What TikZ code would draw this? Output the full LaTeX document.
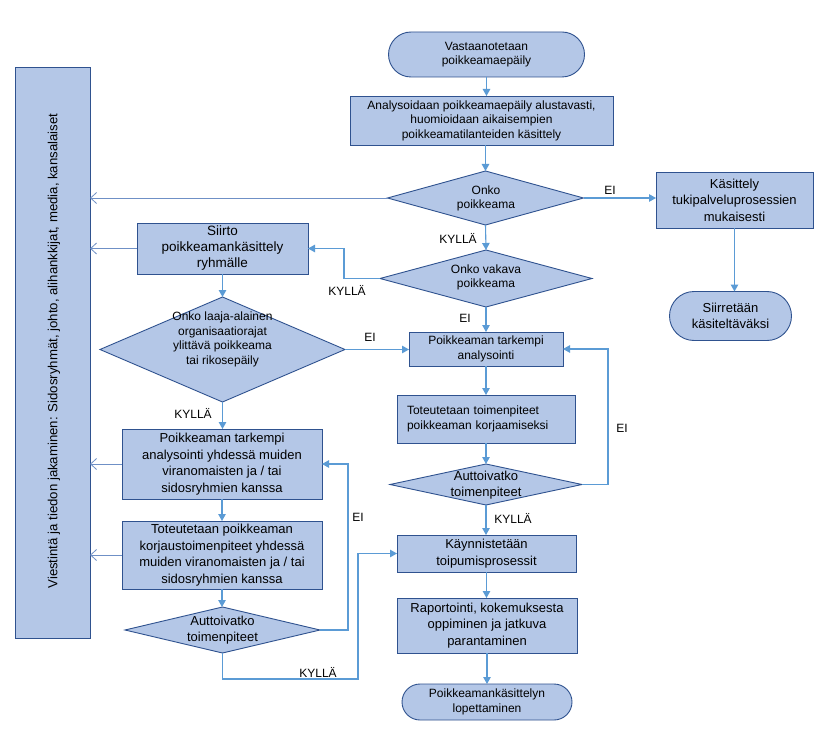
\documentclass[tikz,border=0pt]{standalone}
\usepackage{fontspec}
\setmainfont{Liberation Sans}
\usetikzlibrary{shapes.geometric,shapes.misc,arrows.meta}
\definecolor{boxfill}{HTML}{B4C7E7}
\definecolor{boxline}{HTML}{2F528F}
\definecolor{arrowc}{HTML}{5B9BD5}
\definecolor{infoc}{HTML}{6F90C6}
\begin{document}
\begin{tikzpicture}[x=1pt,y=-1pt,
  fa/.style={font=\fontsize{12}{14.5}\selectfont},
  fb/.style={font=\fontsize{13}{16.5}\selectfont},
  fc/.style={font=\fontsize{13.5}{16}\selectfont},
  box/.style={rectangle, draw=boxline, fill=boxfill, line width=0.9pt, inner sep=0pt, outer sep=0pt, align=center},
  term/.style={rounded rectangle, draw=boxline, fill=boxfill, line width=0.9pt, inner sep=0pt, outer sep=0pt, align=center},
  dia/.style={diamond, draw=boxline, fill=boxfill, line width=0.9pt, inner sep=0pt, outer sep=0pt},
  dtext/.style={align=center, inner sep=0pt},
  lbl/.style={fa, inner sep=0pt},
  flow/.style={draw=arrowc, line width=1.1pt, -{Triangle[length=7pt,width=7.5pt]}},
  plain/.style={draw=arrowc, line width=1.1pt},
  info/.style={draw=infoc, line width=0.8pt, -{Straight Barb[length=6pt,width=11pt,line width=0.8pt]}}
]
\useasboundingbox (0,0) rectangle (827,730);
\fill[white] (0,0) rectangle (827,730);

% left information box
\node[box, minimum width=75pt, minimum height=571pt] (lb) at (52.5,352.5) {};
\node[font=\fontsize{13.2}{15}\selectfont, rotate=90, inner sep=0pt] (lbt) at (54,351) {Viestintä ja tiedon jakaminen: Sidosryhmät, johto, alihankkijat, media, kansalaiset};

% main column
\node[term, fa, minimum width=196pt, minimum height=45pt] (start) at (486.5,54.5) {Vastaanotetaan\\poikkeamaepäily};
\node[box, fa, minimum width=263pt, minimum height=49pt] (ana) at (481.5,120.5) {Analysoidaan poikkeamaepäily alustavasti,\\huomioidaan aikaisempien\\poikkeamatilanteiden käsittely};
\node[dia, minimum width=196pt, minimum height=54pt] (d1) at (485.5,198) {};
\node[dtext, fa] (d1t) at (486,198.5) {Onko\\poikkeama};
\node[box, fb, minimum width=157pt, minimum height=56pt] (kas) at (734.5,200) {Käsittely\\tukipalveluprosessien\\mukaisesti};
\node[term, fb, minimum width=122pt, minimum height=49pt] (siir) at (730.5,316) {Siirretään\\käsiteltäväksi};
\node[dia, minimum width=212pt, minimum height=57pt] (d2) at (486,278.5) {};
\node[dtext, fa] (d2t) at (486,277.5) {Onko vakava\\poikkeama};
\node[box, fa, minimum width=154pt, minimum height=34pt] (pta) at (486,349) {Poikkeaman tarkempi\\analysointi};
\node[box, fa, minimum width=178pt, minimum height=48pt, text width=158pt, align=left, inner xsep=10pt] (tot) at (486,419) {Toteutetaan toimenpiteet\\poikkeaman korjaamiseksi};
\node[dia, minimum width=192pt, minimum height=41pt] (d4) at (486,484.5) {};
\node[dtext, fb] (d4t) at (486,485) {Auttoivatko\\toimenpiteet};
\node[box, fb, minimum width=179pt, minimum height=37pt] (kay) at (486.5,553.5) {Käynnistetään\\toipumisprosessit};
\node[box, fb, minimum width=180pt, minimum height=55pt] (rap) at (487,625.5) {Raportointi, kokemuksesta\\oppiminen ja jatkuva\\parantaminen};
\node[term, fa, minimum width=170pt, minimum height=36pt] (endt) at (487,702) {Poikkeamankäsittelyn\\lopettaminen};

% left column
\node[box, fc, minimum width=171pt, minimum height=51pt] (siirto) at (222.5,248.5) {Siirto\\poikkeamankäsittely\\ryhmälle};
\node[dia, minimum width=245pt, minimum height=105pt] (d3) at (222.5,349.5) {};
\node[dtext, fa] (d3t) at (222.5,339.5) {Onko laaja-alainen\\organisaatiorajat\\ylittävä poikkeama\\tai rikosepäily};
\node[box, fb, minimum width=200pt, minimum height=70pt] (lpta) at (222,464) {Poikkeaman tarkempi\\analysointi yhdessä muiden\\viranomaisten ja / tai\\sidosryhmien kanssa};
\node[box, fb, minimum width=200pt, minimum height=68pt] (ltot) at (222,555) {Toteutetaan poikkeaman\\korjaustoimenpiteet yhdessä\\muiden viranomaisten ja / tai\\sidosryhmien kanssa};
\node[dia, minimum width=195pt, minimum height=46pt] (d5) at (222.5,630) {};
\node[dtext, fb] (d5t) at (222.5,630) {Auttoivatko\\toimenpiteet};

% main flow connectors
\draw[flow] (start.south) -- (start.south |- ana.north);
\draw[flow] (d1.north |- ana.south) -- (d1.north);
\draw[flow] (d1.east) -- (d1.east -| kas.west);
\draw[flow] (kas.south) -- (kas.south |- siir.north);
\draw[flow] (d1.south) -- (d2.north);
\draw[flow] (d2.west) -- ++(-36,0) |- (siirto.east);
\draw[flow] (d2.south) -- (d2.south |- pta.north);
\draw[flow] (siirto.south) -- (d3.north);
\draw[flow] (d3.east) -- (d3.east -| pta.west);
\draw[flow] (d3.south) -- (d3.south |- lpta.north);
\draw[flow] (pta.south) -- (tot.north);
\draw[flow] (tot.south) -- (d4.north);
\draw[flow] (d4.east) -- ++(26,0) |- (pta.east);
\draw[flow] (d4.south) -- (d4.south |- kay.north);
\draw[flow] (kay.south) -- (kay.south |- rap.north);
\draw[flow] (rap.south) -- (rap.south |- endt.north);
\draw[flow] (lpta.south) -- (ltot.north);
\draw[flow] (ltot.south) -- (ltot.south |- d5.north);
\draw[flow] (d5.east) -- ++(28,0) |- (lpta.east);
\coordinate (k1) at (358,679);
\draw[flow] (d5.south) |- (k1) |- (kay.west);

% information connectors
\draw[info] (d1.west) -- (d1.west -| lb.east);
\draw[info] (siirto.west) -- (siirto.west -| lb.east);
\draw[info] (lpta.west) -- (lpta.west -| lb.east);
\draw[info] (ltot.west) -- (ltot.west -| lb.east);

% labels
\node[lbl] (l1) at (610,190) {EI};
\node[lbl] (l2) at (458,238) {KYLLÄ};
\node[lbl] (l3) at (347,290) {KYLLÄ};
\node[lbl] (l4) at (465,318) {EI};
\node[lbl] (l5) at (370,337) {EI};
\node[lbl] (l6) at (193,413) {KYLLÄ};
\node[lbl] (l7) at (622,428) {EI};
\node[lbl] (l8) at (513,518) {KYLLÄ};
\node[lbl] (l9) at (358,517) {EI};
\node[lbl] (l10) at (318,672) {KYLLÄ};
\end{tikzpicture}
\end{document}
